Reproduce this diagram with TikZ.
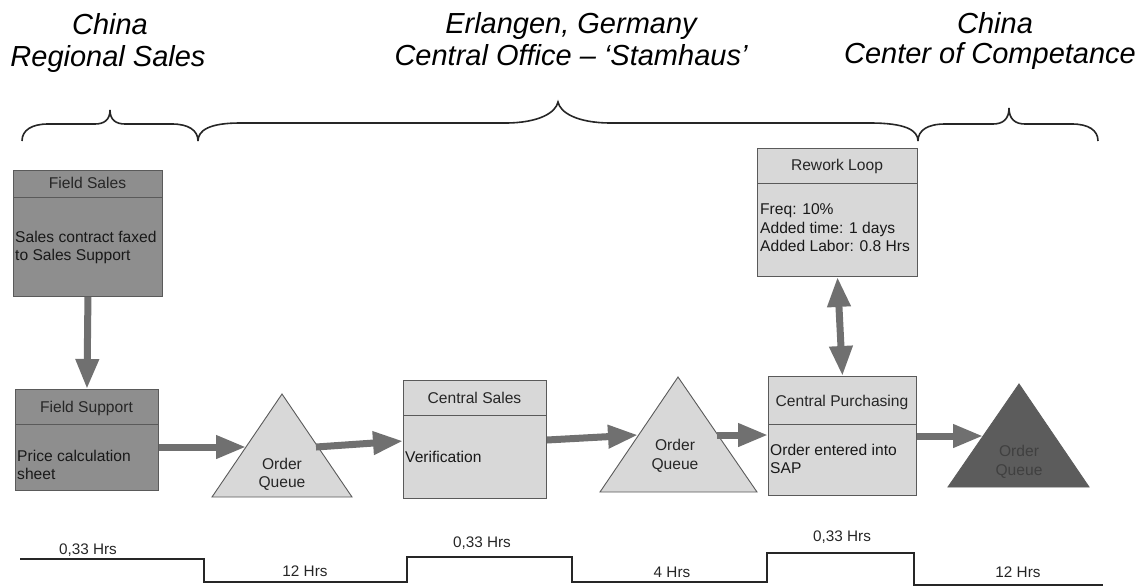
\documentclass[tikz,border=0pt]{standalone}
\usepackage{fontspec}
\setmainfont{Liberation Sans}
\usetikzlibrary{arrows.meta}
\definecolor{darkfill}{HTML}{8E8E8E}
\definecolor{lightfill}{HTML}{D8D8D8}
\definecolor{arrowgray}{HTML}{707070}
\definecolor{trifill}{HTML}{5C5C5C}
\definecolor{edgegray}{HTML}{5A5A5A}
\begin{document}
\begin{tikzpicture}[x=1pt,y=-1pt,
  box/.style={draw=edgegray, line width=0.9pt, anchor=north west, inner sep=0pt},
  darkbox/.style={box, fill=darkfill},
  lightbox/.style={box, fill=lightfill},
  hline/.style={draw=edgegray, line width=0.9pt},
  hdr/.style={font=\fontsize{15.6}{18.5}\selectfont, text=black!85, inner sep=0pt, anchor=base},
  body/.style={font=\fontsize{15.6}{18.5}\selectfont, align=left, anchor=north west, inner sep=0pt, text=black!90},
  tri/.style={draw=edgegray, line width=0.9pt, fill=lightfill},
  darktri/.style={draw=trifill, line width=0.9pt, fill=trifill},
  qtext/.style={font=\fontsize{15.6}{18.5}\selectfont, align=center, inner sep=0pt, text=black!85},
  flow/.style={draw=arrowgray, line width=7pt, -{Triangle[length=30pt,width=22pt]}},
  loopflow/.style={draw=arrowgray, line width=7pt, {Triangle[length=30pt,width=22pt]}-{Triangle[length=30pt,width=22pt]}},
  region/.style={font=\fontsize{29}{34}\selectfont\itshape, inner sep=0pt, anchor=base},
  brace/.style={draw=black!85, line width=1.6pt},
  timeline/.style={draw=black!85, line width=2.6pt},
  tlabel/.style={font=\fontsize{15.3}{18}\selectfont, inner sep=0pt, anchor=base, text=black!85}
]
\useasboundingbox (0,0) rectangle (1145,587);

% region headings
\node[region] (r1a) at (110,34) {China};
\node[region] (r1b) at (108,66) {Regional Sales};
\node[region] (r2a) at (571,33) {Erlangen, Germany};
\node[region] (r2b) at (571,65) {Central Office -- `Stamhaus'};
\node[region] (r3a) at (995,33) {China};
\node[region] (r3b) at (990,63) {Center of Competance};

% braces
\draw[brace] (22,141) .. controls (22,130) and (32,124) .. (48,124) -- (95,124)
  .. controls (104,124) and (110,120) .. (110,110)
  .. controls (110,120) and (116,124) .. (125,124) -- (172,124)
  .. controls (188,124) and (198,130) .. (198,141);
\draw[brace] (198,141) .. controls (198,130) and (210,123) .. (240,123) -- (505,123)
  .. controls (540,123) and (556,112) .. (558,102)
  .. controls (560,112) and (576,123) .. (611,123) -- (870,123)
  .. controls (905,123) and (918,130) .. (918,141);
\draw[brace] (918,141) .. controls (918,130) and (928,124) .. (945,124) -- (993,124)
  .. controls (1003,124) and (1009,119) .. (1009,108)
  .. controls (1009,119) and (1015,124) .. (1025,124) -- (1072,124)
  .. controls (1088,124) and (1098,130) .. (1098,141);

% Field Sales
\node[darkbox, minimum width=149pt, minimum height=126pt] (fs) at (13,170) {};
\draw[hline] (13,197) -- (162,197);
\node[hdr] (fsh) at (87.5,188) {Field Sales};
\node[body] (fsb) at (15,230.5) {Sales contract faxed\\to Sales Support};

% Field Support
\node[darkbox, minimum width=143pt, minimum height=101pt] (fsp) at (15,389) {};
\draw[hline] (15,424) -- (158,424);
\node[hdr] (fsph) at (86.5,412) {Field Support};
\node[body] (fspb) at (17,449.7) {Price calculation\\sheet};

% Central Sales
\node[lightbox, minimum width=143pt, minimum height=118pt] (cs) at (403,380) {};
\draw[hline] (403,415) -- (546,415);
\node[hdr] (csh) at (474.5,403) {Central Sales};
\node[body] (csb) at (405,450.7) {Verification};

% Central Purchasing
\node[lightbox, minimum width=148pt, minimum height=119pt] (cp) at (768,376) {};
\draw[hline] (768,424) -- (916,424);
\node[hdr] (cph) at (842,406) {Central Purchasing};
\node[body] (cpb) at (770,443.7) {Order entered into\\SAP};

% Rework Loop
\node[lightbox, minimum width=160pt, minimum height=128pt] (rw) at (757,148) {};
\draw[hline] (757,183) -- (917,183);
\node[hdr] (rwh) at (837,170) {Rework Loop};
\node[body] (rwb) at (760,203.7) {Freq: 10\%\\Added time: 1 days\\Added Labor: 0.8 Hrs};

% Order queues
\draw[tri] (282,394) -- (352,497) -- (212,497) -- cycle;
\node[qtext] (q1) at (282,474.3) {Order\\Queue};
\draw[tri] (678,377) -- (757,492) -- (600,492) -- cycle;
\node[qtext] (q2) at (675,455.8) {Order\\Queue};
\draw[darktri] (1019,384) -- (1089,487) -- (948,487) -- cycle;
\node[qtext, text=black!75] (q3) at (1019,461.8) {Order\\Queue};

\coordinate (q1in) at (246,447);
\coordinate (q1out) at (316,447);
\coordinate (q2in) at (638,435);
\coordinate (q2out) at (717,435);
\coordinate (q3in) at (983,436);

% connectors
\draw[flow] (fs.south) -- (fsp.north);
\draw[flow] (fsp.east |- q1in) -- (q1in);
\draw[flow] (q1out) -- (cs.west |- 0,441);
\draw[flow] (cs.east |- 0,440) -- (q2in);
\draw[flow] (q2out) -- (cp.west |- q2out);
\draw[flow] (cp.east |- q3in) -- (q3in);
\draw[loopflow] (rw.south) -- (cp.north);

% timeline
\draw[timeline] (20,559) -- (204,559) -- (204,582) -- (407,582) -- (407,557)
  -- (572,557) -- (572,582) -- (767,582) -- (767,553) -- (914,553)
  -- (914,585) -- (1103,585);
\node[tlabel] (t1) at (88,554) {0,33 Hrs};
\node[tlabel] (t2) at (305,576) {12 Hrs};
\node[tlabel] (t3) at (482,547) {0,33 Hrs};
\node[tlabel] (t4) at (672,577) {4 Hrs};
\node[tlabel] (t5) at (842,541) {0,33 Hrs};
\node[tlabel] (t6) at (1018,577) {12 Hrs};
\end{tikzpicture}
\end{document}
